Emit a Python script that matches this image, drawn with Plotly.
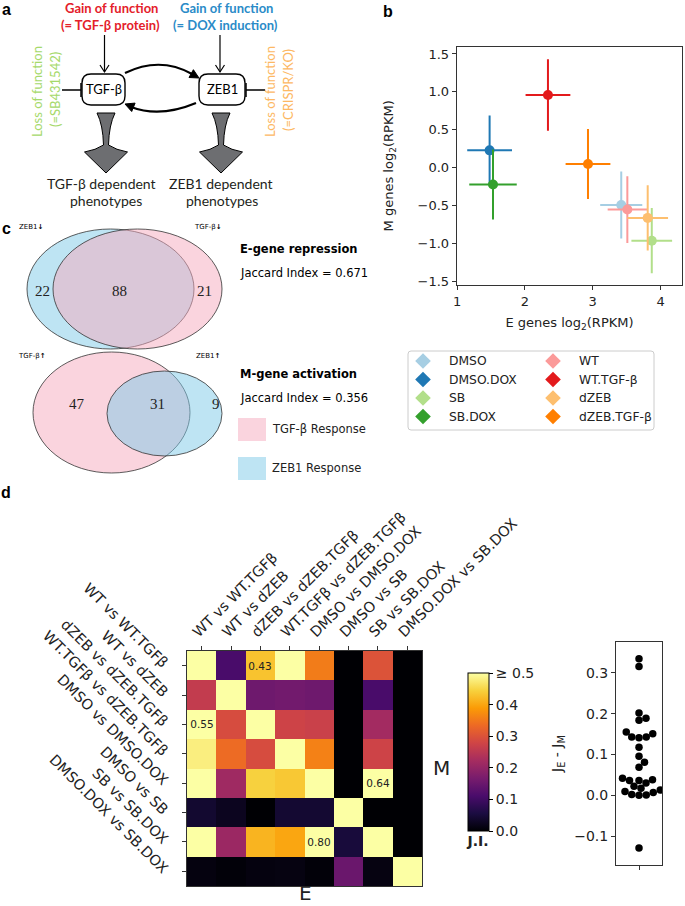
import numpy as np
import plotly.graph_objects as go

W, H = 685, 906

# panel b: mean expression of E / M genes per condition
conditions = ["DMSO", "DMSO.DOX", "SB", "SB.DOX", "WT", "WT.TGF-β", "dZEB", "dZEB.TGF-β"]
cond_colors = ["#a6cee3", "#1f78b4", "#b2df8a", "#33a02c", "#fb9a99", "#e31a1c", "#fdbf6f", "#ff7f00"]
e_genes = [3.42, 1.48, 3.87, 1.53, 3.51, 2.34, 3.81, 2.93]
e_genes_sd = [0.31, 0.33, 0.30, 0.35, 0.29, 0.33, 0.30, 0.33]
m_genes = [-0.49, 0.23, -0.96, -0.22, -0.55, 0.96, -0.66, 0.05]
m_genes_sd = [0.44, 0.46, 0.43, 0.46, 0.44, 0.47, 0.43, 0.46]

# panel c: venn counts and jaccard indices
e_repression = [22, 88, 21]   # ZEB1 only, shared, TGF-b only
m_activation = [47, 31, 9]    # TGF-b only, shared, ZEB1 only
jaccard = [0.671, 0.356]

# panel d: jaccard index of E (cols) / M (rows) responses
comparisons = ["WT vs WT.TGFβ", "WT vs dZEB", "dZEB vs dZEB.TGFβ", "WT.TGFβ vs dZEB.TGFβ",
               "DMSO vs DMSO.DOX", "DMSO vs SB", "SB vs SB.DOX", "DMSO.DOX vs SB.DOX"]
ji = [
    [1.00, 0.11, 0.43, 0.52, 0.355, 0.00, 0.30, 0.00],
    [0.26, 1.00, 0.155, 0.16, 0.155, 0.00, 0.11, 0.00],
    [0.55, 0.29, 1.00, 0.275, 0.27, 0.00, 0.22, 0.00],
    [0.48, 0.335, 0.29, 1.00, 0.36, 0.00, 0.275, 0.00],
    [0.60, 0.215, 0.445, 0.435, 1.00, 0.00, 0.64, 0.00],
    [0.04, 0.025, 0.00, 0.042, 0.042, 1.00, 0.00, 0.00],
    [0.62, 0.21, 0.415, 0.40, 0.80, 0.05, 1.00, 0.00],
    [0.01, 0.005, 0.01, 0.012, 0.005, 0.15, 0.012, 1.00],
]
ji_shown = [(0, 2), (2, 0), (4, 6), (6, 4)]
je_minus_jm = [0.335, 0.316, 0.202, 0.189, 0.184, 0.155, 0.151, 0.143, 0.141, 0.143,
               0.118, 0.096, 0.081, 0.069, 0.042, 0.038, 0.036, 0.036, 0.030, 0.022,
               0.017, 0.013, 0.009, 0.007, 0.002, 0.000, 0.001, -0.129]

FONT = "DejaVu Sans"
ann = []
shapes = []


def px(x0, x1):
    return [x0 / W, x1 / W]


def py(y0, y1):
    # pixel rows (top-down) -> paper domain
    return [1 - y1 / H, 1 - y0 / H]


def note(x, y, text, size=12, color="black", xanchor="center", angle=0, family=FONT):
    ann.append(dict(x=x, y=y, xref="x9", yref="y9", text=text, showarrow=False,
                    xanchor=xanchor, yanchor="middle", textangle=angle,
                    font=dict(size=size, color=color, family=family)))


def path(d, fill="rgba(0,0,0,0)", color="black", width=1.3):
    shapes.append(dict(type="path", path=d, xref="x9", yref="y9", fillcolor=fill,
                       line=dict(color=color, width=width)))


def rrect(x0, y0, x1, y1, r):
    return (f"M {x0+r},{y0} L {x1-r},{y0} Q {x1},{y0} {x1},{y0+r} L {x1},{y1-r} "
            f"Q {x1},{y1} {x1-r},{y1} L {x0+r},{y1} Q {x0},{y1} {x0},{y1-r} "
            f"L {x0},{y0+r} Q {x0},{y0} {x0+r},{y0} Z")


def funnel(cx):
    return (f"M {cx-9},113 L {cx+9},113 Q {cx+3},125 {cx+2.5},145 Q {cx+10},150 {cx+21.5},152 "
            f"L {cx},173 L {cx-21.5},152 Q {cx-10},150 {cx-2.5},145 Q {cx-3},125 {cx-9},113 Z")


fig = go.Figure()

# ---------------- panel a (schematic)
RED, BLUE, GREEN, ORANGE = "#e4202a", "#2a8bc8", "#a6d96a", "#fdb863"
LATO = "Lato"
note(6, 9, "<b>a</b>", 16, family="Liberation Sans")
note(111, 8, "<b>Gain of function</b>", 13, RED, family=LATO)
note(110, 25, "<b>(= TGF-β protein)</b>", 13, RED, family=LATO)
note(226, 8, "<b>Gain of function</b>", 13, BLUE, family=LATO)
note(225, 25, "<b>(= DOX induction)</b>", 13, BLUE, family=LATO)
note(37, 92, "Loss of function", 13, GREEN, angle=-90, family=LATO)
note(55, 90, "(=SB431542)", 13, GREEN, angle=-90, family=LATO)
note(270, 92, "Loss of function", 13, ORANGE, angle=-90, family=LATO)
note(288, 90, "(=CRISPR/KO)", 13, ORANGE, angle=-90, family=LATO)
note(101, 183, "TGF-β dependent", 14, "#231f20", family=LATO)
note(106, 200, "phenotypes", 14, "#231f20", family=LATO)
note(221, 183, "ZEB1 dependent", 14, "#231f20", family=LATO)
note(222, 200, "phenotypes", 14, "#231f20", family=LATO)

for cx in (104.5, 220):
    path(f"M {cx},35 L {cx},72", width=1.2)
    path(f"M {cx-4.5},65 L {cx},72 L {cx+4.5},65", width=1.2)
path(rrect(82, 74, 125, 105, 9), fill="white", width=1.4)
path(rrect(199, 74, 245, 105, 9), fill="white", width=1.4)
note(104, 89, "TGF-β", 13, family=LATO)
note(222, 89, "ZEB1", 13, family=LATO)
# inhibition bars
path("M 62,90 L 81,90 M 81,83 L 81,97", width=1.5)
path("M 246,90 L 265,90 M 246,83 L 246,97", width=1.5)
# mutual activation
path("M 125,73 Q 160,56 192,74", width=2.2)
path("M 199,78 L 189.0,77.5 L 193.4,69.7 Z", fill="black", width=1)
path("M 196,103 Q 160,118 131,107", width=2.2)
path("M 125,104 L 135.1,103.1 L 131.7,111.5 Z", fill="black", width=1)
path(funnel(106), fill="#6d6e71", width=1)
path(funnel(221), fill="#6d6e71", width=1)

# ---------------- panel b (scatter with error bars)
note(388, 11, "<b>b</b>", 16, family="Liberation Sans")
for i, name in enumerate(conditions):
    c = cond_colors[i]
    fig.add_trace(go.Scatter(
        x=[e_genes[i]], y=[m_genes[i]], mode="markers", name=name,
        marker=dict(color=c, size=10),
        error_x=dict(type="data", array=[e_genes_sd[i]], color=c, thickness=2, width=0),
        error_y=dict(type="data", array=[m_genes_sd[i]], color=c, thickness=2, width=0),
        xaxis="x", yaxis="y", showlegend=False))

# legend box for b
path(rrect(408, 351, 654, 430, 3), color="#cccccc", width=1)
leg_x = [423 + 130 * (i // 4) for i in range(len(conditions))]
leg_y = [361 + 18.5 * (i % 4) for i in range(len(conditions))]
fig.add_trace(go.Scatter(x=leg_x, y=leg_y, mode="markers", xaxis="x9", yaxis="y9",
                         marker=dict(symbol="diamond", size=12, color=cond_colors),
                         showlegend=False, hoverinfo="skip"))
for i, name in enumerate(conditions):
    note(leg_x[i] + 24, leg_y[i], name, 12.3, "#222", xanchor="left")

# ---------------- panel c (venn diagrams)
note(6, 228, "<b>c</b>", 16, family="Liberation Sans")
PINK = "rgba(245,169,189,0.5)"
SKY = "rgba(125,201,231,0.5)"
OUT = dict(color="#333333", width=0.8)
shapes.append(dict(type="circle", xref="x9", yref="y9", x0=27, x1=194, y0=229, y1=349,
                   fillcolor=SKY, line=OUT))
shapes.append(dict(type="circle", xref="x9", yref="y9", x0=53, x1=222, y0=229, y1=349,
                   fillcolor=PINK, line=OUT))
shapes.append(dict(type="circle", xref="x9", yref="y9", x0=33, x1=190, y0=352, y1=473,
                   fillcolor=PINK, line=OUT))
shapes.append(dict(type="circle", xref="x9", yref="y9", x0=107, x1=222, y0=371, y1=456,
                   fillcolor=SKY, line=OUT))
SERIF = "Liberation Serif"
for x, v in zip([42, 119, 204], e_repression):
    note(x, 291, str(v), 15, "#222", family=SERIF)
for x, v in zip([77, 157, 216], m_activation):
    note(x, 404, str(v), 15, "#222", family=SERIF)
note(31, 227, "ZEB1<b>↓</b>", 7)
note(208, 227, "TGF-β<b>↓</b>", 7)
note(32, 356, "TGF-β<b>↑</b>", 7)
note(208, 356, "ZEB1<b>↑</b>", 7)

note(238, 249, "<b>E-gene repression</b>", 11.5, xanchor="left")
note(238, 273, f"Jaccard Index = {jaccard[0]:.3f}", 11.5, xanchor="left")
note(238, 374, "<b>M-gene activation</b>", 11.5, xanchor="left")
note(238, 398, f"Jaccard Index = {jaccard[1]:.3f}", 11.5, xanchor="left")
shapes.append(dict(type="rect", xref="x9", yref="y9", x0=238, x1=266, y0=418, y1=441,
                   fillcolor=PINK, line=dict(width=0)))
shapes.append(dict(type="rect", xref="x9", yref="y9", x0=238, x1=266, y0=457, y1=480,
                   fillcolor=SKY, line=dict(width=0)))
note(270, 429, "TGF-β Response", 11.5, "#222", xanchor="left")
note(270, 468, "ZEB1 Response", 11.5, "#222", xanchor="left")

# ---------------- panel d (heatmap + swarm)
note(6, 492, "<b>d</b>", 16, family="Liberation Sans")
n = len(comparisons)
cell_text = [["" for _ in range(n)] for _ in range(n)]
for r, c in ji_shown:
    cell_text[r][c] = f"{ji[r][c]:.2f}"
fig.add_trace(go.Heatmap(
    z=ji, x=list(range(n)), y=list(range(n)), text=cell_text, texttemplate="%{text}",
    textfont=dict(size=10.5, color="#222", family=FONT),
    colorscale="Inferno", zmin=0, zmax=0.5, xaxis="x3", yaxis="y3", hoverinfo="skip",
    colorbar=dict(x=468 / W, xanchor="left", y=1 - 762.5 / H, yanchor="middle",
                  len=179 / H, lenmode="fraction", thickness=21, xpad=0, ypad=0,
                  outlinecolor="black", outlinewidth=1,
                  tickvals=[0, 0.1, 0.2, 0.3, 0.4, 0.5],
                  ticktext=["0.0", "0.1", "0.2", "0.3", "0.4", "≥ 0.5"],
                  ticks="outside", ticklen=4, tickcolor="black",
                  tickfont=dict(size=14, color="#222"),
                  title=dict(text="<b>J.I.</b>", side="bottom", font=dict(size=14)))))
note(305, 893, "E", 20, "#222")
note(441, 768, "M", 20, "#222")


# beeswarm offsets (pixels) so that dots do not overlap
def swarm(vals, dot, px_per_unit):
    order = np.argsort(vals)
    placed = []
    offs = np.zeros(len(vals))
    cands = [0.0] + [s * k * 0.25 for k in range(1, 200) for s in (1, -1)]
    for idx in order:
        yv = vals[idx] * px_per_unit
        for cx in cands:
            if all((cx - ox) ** 2 + (yv - oy) ** 2 >= dot ** 2 for ox, oy in placed):
                offs[idx] = cx
                placed.append((cx, yv))
                break
    return offs


swarm_x = swarm(np.array(je_minus_jm), 7.2, 407)
fig.add_trace(go.Scatter(x=swarm_x, y=je_minus_jm, mode="markers",
                         marker=dict(color="black", size=7.5), xaxis="x4", yaxis="y4",
                         showlegend=False))

# overlay axis for schematic pieces (pixel units)
fig.add_trace(go.Scatter(x=[None], y=[None], xaxis="x9", yaxis="y9", showlegend=False))

axis_style = dict(showline=True, mirror=True, linecolor="#333", linewidth=1, ticks="outside",
                  ticklen=4, tickcolor="#333", showgrid=False, zeroline=False, automargin=False,
                  tickfont=dict(size=13, color="#222"))

fig.update_layout(
    width=W, height=H, margin=dict(l=0, r=0, t=0, b=0, autoexpand=False),
    paper_bgcolor="white", plot_bgcolor="rgba(0,0,0,0)",
    font=dict(family=FONT, color="#222"), showlegend=False,
    xaxis=dict(axis_style, domain=px(456.7, 682.3), anchor="y", range=[0.995, 4.32],
               tickvals=[1, 2, 3, 4],
               title=dict(text="E genes log<sub>2</sub>(RPKM)", font=dict(size=13), standoff=10)),
    yaxis=dict(axis_style, domain=py(46.7, 285), anchor="x", range=[-1.544, 1.596],
               tickvals=[-1.5, -1, -0.5, 0, 0.5, 1, 1.5], tickformat=".1f",
               title=dict(text="M genes log<sub>2</sub>(RPKM)", font=dict(size=13), standoff=20)),
    xaxis3=dict(axis_style, domain=px(187, 422), anchor="y3", side="top", range=[-0.5, n - 0.5],
                tickvals=list(range(n)), ticktext=comparisons, tickangle=-45,
                ticklabelshift=-8, tickfont=dict(size=14.5, color="#222")),
    yaxis3=dict(axis_style, domain=py(651, 886), anchor="x3", range=[n - 0.5, -0.5],
                tickvals=list(range(n)), ticktext=comparisons, tickangle=45,
                ticklabelstandoff=12, tickfont=dict(size=14.5, color="#222")),
    xaxis4=dict(axis_style, domain=px(616, 662), anchor="y4", range=[-23, 23],
                tickvals=[0], ticktext=[""]),
    yaxis4=dict(axis_style, domain=py(642, 865), anchor="x4", range=[-0.171, 0.376],
                tickvals=[-0.1, 0, 0.1, 0.2, 0.3], tickformat=".1f",
                tickfont=dict(size=14, color="#222"),
                title=dict(text="J<sub>E</sub> - J<sub>M</sub>", font=dict(size=14), standoff=8)),
    xaxis9=dict(domain=[0, 1], range=[0, W], visible=False, anchor="y9", fixedrange=True,
                automargin=False),
    yaxis9=dict(domain=[0, 1], range=[H, 0], visible=False, anchor="x9", fixedrange=True,
                automargin=False),
    annotations=ann, shapes=shapes,
)

# page has no body margin so the figure sits at the window origin
fig.write_html("out.html", config={"displayModeBar": False},
               post_script="document.body.style.margin='0';")
